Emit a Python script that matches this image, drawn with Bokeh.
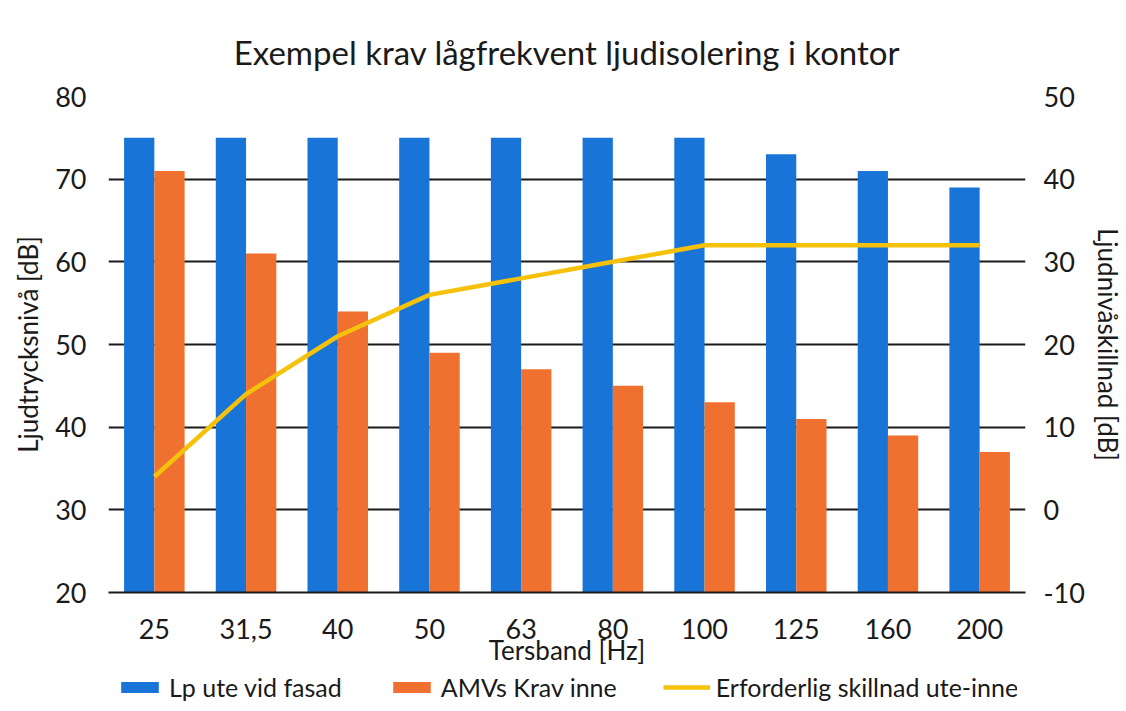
from bokeh.plotting import figure
from bokeh.layouts import column
from bokeh.models import (Range1d, LinearAxis, FactorRange, Legend, LegendItem,
                          FixedTicker, ColumnDataSource, Title)
from bokeh.transform import dodge
from bokeh.embed import file_html
from bokeh.resources import INLINE

categories = ["25", "31,5", "40", "50", "63", "80", "100", "125", "160", "200"]
lp_ute = [75, 75, 75, 75, 75, 75, 75, 73, 71, 69]
amv_krav = [71, 61, 54, 49, 47, 45, 43, 41, 39, 37]
skillnad = [4, 14, 21, 26, 28, 30, 32, 32, 32, 32]
left_ticks = [20, 30, 40, 50, 60, 70, 80]
right_ticks = [-10, 0, 10, 20, 30, 40, 50]
series_names = ["Lp ute vid fasad", "AMVs Krav inne", "Erforderlig skillnad ute-inne"]

FONT = "Lato"
BLUE = "#1874d6"
ORANGE = "#f07030"
YELLOW = "#f5c10a"
TXT = "#1a1a1a"

src = ColumnDataSource(dict(cat=categories, lp=lp_ute, amv=amv_krav, sk=skillnad))

p = figure(frame_width=917, frame_height=496, x_range=FactorRange(*categories),
           y_range=Range1d(20, 80), output_backend="svg", toolbar_location=None,
           min_border_left=108, min_border_right=90, min_border_top=96,
           min_border_bottom=0)
p.extra_y_ranges = {"right": Range1d(-10, 50)}
p.outline_line_color = None
p.background_fill_color = "white"
p.border_fill_color = "white"

t = Title(text="Exempel krav lågfrekvent ljudisolering i kontor", align="center",
          text_font=FONT, text_font_size="33px", text_font_style="normal",
          text_color=TXT, standoff=49)
p.add_layout(t, "above")

r1 = p.vbar(x=dodge("cat", -0.165, range=p.x_range), top="lp", bottom=20, width=0.33,
            source=src, fill_color=BLUE, line_color=None)
r2 = p.vbar(x=dodge("cat", 0.165, range=p.x_range), top="amv", bottom=20, width=0.33,
            source=src, fill_color=ORANGE, line_color=None)
r3 = p.line(x="cat", y="sk", source=src, y_range_name="right", line_color=YELLOW,
            line_width=4.5)

p.xgrid.grid_line_color = None
p.ygrid.grid_line_color = TXT
p.ygrid.grid_line_width = 2
p.ygrid.ticker = FixedTicker(ticks=left_ticks)

ax = p.xaxis[0]
ax.axis_line_color = TXT
ax.axis_line_width = 2
ax.major_tick_line_color = None
ax.minor_tick_line_color = None
ax.major_tick_out = 0
ax.major_tick_in = 0
ax.major_label_text_font = FONT
ax.major_label_text_font_size = "27px"
ax.major_label_text_color = TXT
ax.major_label_standoff = 26
ax.axis_label = "Tersband [Hz]"
ax.axis_label_text_font = FONT
ax.axis_label_text_font_size = "26px"
ax.axis_label_text_font_style = "normal"
ax.axis_label_text_color = TXT
ax.axis_label_standoff = -8

ay = p.yaxis[0]
ay.ticker = FixedTicker(ticks=left_ticks)
ay.axis_line_color = None
ay.major_tick_line_color = None
ay.minor_tick_line_color = None
ay.major_label_text_font = FONT
ay.major_label_text_font_size = "27px"
ay.major_label_text_color = TXT
ay.major_label_standoff = 16
ay.axis_label = "Ljudtrycksnivå [dB]"
ay.axis_label_text_font = FONT
ay.axis_label_text_font_size = "26px"
ay.axis_label_text_font_style = "normal"
ay.axis_label_text_color = TXT
ay.axis_label_standoff = 8

ry = LinearAxis(y_range_name="right", ticker=FixedTicker(ticks=right_ticks))
ry.major_label_overrides = {-10: "-10"}
ry.axis_line_color = None
ry.major_tick_line_color = None
ry.minor_tick_line_color = None
ry.major_label_text_font = FONT
ry.major_label_text_font_size = "27px"
ry.major_label_text_color = TXT
ry.major_label_standoff = 12
ry.axis_label = "Ljudnivåskillnad [dB]"
ry.axis_label_text_font = FONT
ry.axis_label_text_font_size = "26px"
ry.axis_label_text_font_style = "normal"
ry.axis_label_text_color = TXT
ry.axis_label_standoff = 4
p.add_layout(ry, "right")

# Legend strip below the chart: proxy renderers lie outside the strip's visible range
lg = figure(width=1118, height=36, x_range=Range1d(0, 1), y_range=Range1d(0, 1),
            output_backend="svg", toolbar_location=None, min_border=0,
            min_border_left=0, min_border_right=0, min_border_top=0,
            min_border_bottom=0)
lg.axis.visible = False
lg.grid.visible = False
lg.outline_line_color = None
lg.background_fill_color = "white"
lg.border_fill_color = "white"
e1 = lg.vbar(x=[5], top=[5], bottom=[4], width=0.1, fill_color=BLUE, line_color=None)
e2 = lg.vbar(x=[5], top=[5], bottom=[4], width=0.1, fill_color=ORANGE, line_color=None)
e3 = lg.line(x=[5, 6], y=[5, 5], line_color=YELLOW, line_width=4.5)

legend = Legend(items=[LegendItem(label=series_names[0], renderers=[e1]),
                       LegendItem(label=series_names[1], renderers=[e2]),
                       LegendItem(label=series_names[2], renderers=[e3])],
                orientation="horizontal", location=(8, 2),
                glyph_width=47, glyph_height=14, label_standoff=6, spacing=46,
                label_text_font=FONT, label_text_font_size="25px",
                label_text_color=TXT, border_line_color=None,
                background_fill_alpha=0, padding=0, margin=0)
lg.add_layout(legend, "center")

layout = column(p, lg, spacing=0)
open("out.html", "w").write(file_html(layout, INLINE))
